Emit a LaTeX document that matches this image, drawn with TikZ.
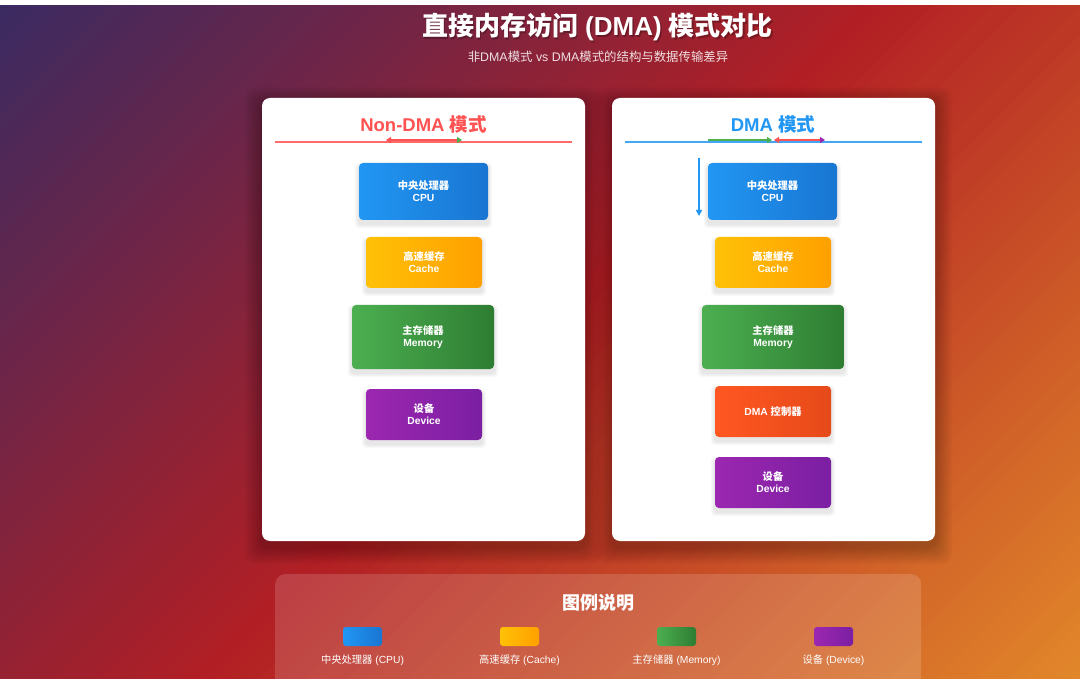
\documentclass[tikz,border=0pt]{standalone}
\usepackage{fontspec}
\setmainfont{Liberation Sans}
\newfontfamily\cjk{Noto Sans CJK SC}
\usetikzlibrary{arrows.meta}
\newcommand\zh[1]{{\cjk #1}}

\definecolor{bgA}{HTML}{3A2A62}
\definecolor{bgB}{HTML}{B21F24}
\definecolor{bgC}{HTML}{E2882A}
\definecolor{cpuA}{HTML}{2196F3}
\definecolor{cpuB}{HTML}{1976D2}
\definecolor{cacheA}{HTML}{FFC107}
\definecolor{cacheB}{HTML}{FFA000}
\definecolor{memA}{HTML}{4CAF50}
\definecolor{memB}{HTML}{2E7D32}
\definecolor{devA}{HTML}{9C27B0}
\definecolor{devB}{HTML}{7B1FA2}
\definecolor{dmaA}{HTML}{FF5722}
\definecolor{dmaB}{HTML}{E64A19}
\definecolor{redT}{HTML}{FF5252}
\definecolor{redL}{HTML}{FF6B6B}
\definecolor{blueT}{HTML}{2196F3}
\definecolor{blueL}{HTML}{42A5F5}
\definecolor{greenA}{HTML}{4CAF50}
\definecolor{purpleA}{HTML}{9C27B0}

\pgfdeclarelayer{lzero}
\pgfdeclarelayer{lone}
\pgfdeclarelayer{ltwo}
\pgfdeclarelayer{lthree}
\pgfsetlayers{lzero,lone,ltwo,lthree,main}

\tikzset{
  card/.style={fill=white, rounded corners=8pt, inner sep=0pt,
    minimum width=323pt, minimum height=443pt},
  cardtitle/.style={font=\bfseries\fontsize{18.5}{22}\selectfont, inner sep=0pt},
  nbox/.style={rounded corners=4pt, text=white, align=center, inner sep=0pt,
    font=\bfseries\fontsize{10.3}{12}\selectfont},
  cpu/.style={left color=cpuA, right color=cpuB, minimum width=129pt, minimum height=57pt},
  cache/.style={left color=cacheA, right color=cacheB, minimum width=116pt, minimum height=51pt},
  mem/.style={left color=memA, right color=memB, minimum width=142pt, minimum height=64pt},
  dev/.style={left color=devA, right color=devB, minimum width=116pt, minimum height=51pt},
  dma/.style={left color=dmaA, right color=dmaB, minimum width=116pt, minimum height=51pt},
  swatch/.style={rounded corners=3pt, inner sep=0pt, minimum width=39pt, minimum height=19pt},
  leglabel/.style={text=white, font=\fontsize{10.3}{12}\selectfont, inner sep=0pt},
}

\begin{document}
\begin{tikzpicture}[x=1pt,y=-1pt]
\useasboundingbox (0,0) rectangle (1080,679);
\begin{pgfonlayer}{lzero}
\fill[white] (0,0) rectangle (1080,679);
% background gradient (135deg)
\begin{scope}
  \clip (0,6) rectangle (1080,679);
  \foreach \i in {0,...,119} {
    \pgfmathsetmacro\sa{\i*14.6583}
    \pgfmathsetmacro\sb{\sa+16.2}
    \pgfmathsetmacro\sc{\sa-679}
    \pgfmathsetmacro\sd{\sb-679}
    \ifnum\i<60
      \pgfmathtruncatemacro\pp{(\i+0.5)*100/60}
      \colorlet{stripe}{bgB!\pp!bgA}
    \else
      \pgfmathtruncatemacro\pp{(\i-60+0.5)*100/60}
      \colorlet{stripe}{bgC!\pp!bgB}
    \fi
    \fill[stripe] (\sa,0) -- (\sb,0) -- (\sd,679) -- (\sc,679) -- cycle;
  }
\end{scope}
\end{pgfonlayer}

% title
\node[text=black, opacity=0.25, font=\bfseries\fontsize{26}{30}\selectfont, inner sep=0pt] (titleshadow) at (599,29) {\zh{直接内存访问} (DMA) \zh{模式对比}};
\node[text=white, font=\bfseries\fontsize{26}{30}\selectfont, inner sep=0pt] (title) at (597.5,27) {\zh{直接内存访问} (DMA) \zh{模式对比}};
\node[text=white, text opacity=0.85, font=\fontsize{12.4}{14}\selectfont, inner sep=0pt] (subtitle) at (598,57) {\zh{非}DMA\zh{模式} vs DMA\zh{模式的结构与数据传输差异}};

% cards
\begin{pgfonlayer}{ltwo}
\node[card] (lcard) at (423.5,319.5) {};
\node[card] (rcard) at (773.5,319.5) {};
\end{pgfonlayer}
\begin{pgfonlayer}{lone}
\foreach \n in {lcard,rcard} {
  \foreach \k in {1,...,12} {
    \fill[black, opacity=0.018, rounded corners=10pt]
      ([xshift=-1.4*\k pt, yshift={1.4*\k pt-6pt}]\n.north west) rectangle ([xshift=1.4*\k pt, yshift={-1.4*\k pt-6pt}]\n.south east);
  }
}
\end{pgfonlayer}

% left card header
\node[cardtitle, text=redT] (ltitle) at (423.5,124) {Non-DMA \zh{模式}};
\coordinate (lu1) at (275,142);
\coordinate (lu2) at (572,142);
\draw[redL, line width=2pt] (lu1) -- (lu2);
\coordinate (la1) at (386,140);
\coordinate (la2) at (462,140);
\draw[redT, line width=2pt, {Triangle[length=5pt,width=6pt]}-{Triangle[length=5pt,width=6pt,color=greenA]}] (la1) -- (la2);

% right card header
\node[cardtitle, text=blueT] (rtitle) at (773,124) {DMA \zh{模式}};
\coordinate (ru1) at (625,142);
\coordinate (ru2) at (922,142);
\draw[blueL, line width=2pt] (ru1) -- (ru2);
\coordinate (ra1) at (708,140);
\coordinate (ra2) at (772,140);
\draw[greenA, line width=2pt, -{Triangle[length=5pt,width=6pt]}] (ra1) -- (ra2);
\coordinate (rb1) at (774,140);
\coordinate (rb2) at (825,140);
\draw[redT, line width=2pt, {Triangle[length=5pt,width=6pt]}-{Triangle[length=5pt,width=6pt,color=purpleA]}] (rb1) -- (rb2);
\coordinate (va1) at (699,158);
\coordinate (va2) at (699,216);
\draw[blueT, line width=1.5pt, -{Triangle[length=6pt,width=6pt]}] (va1) -- (va2);

% left card components
\node[nbox, cpu] (lcpu) at (423.5,191.5) {\zh{中央处理器}\\CPU};
\node[nbox, cache] (lcache) at (424,262.5) {\zh{高速缓存}\\Cache};
\node[nbox, mem] (lmem) at (423,337) {\zh{主存储器}\\Memory};
\node[nbox, dev] (ldev) at (424,414.5) {\zh{设备}\\Device};

% right card components
\node[nbox, cpu] (rcpu) at (772.5,191.5) {\zh{中央处理器}\\CPU};
\node[nbox, cache] (rcache) at (773,262.5) {\zh{高速缓存}\\Cache};
\node[nbox, mem] (rmem) at (773,337) {\zh{主存储器}\\Memory};
\node[nbox, dma] (rdma) at (773,411.5) {DMA \zh{控制器}};
\node[nbox, dev] (rdev) at (773,482.5) {\zh{设备}\\Device};

\begin{pgfonlayer}{lthree}
\foreach \n in {lcpu,lcache,lmem,ldev,rcpu,rcache,rmem,rdma,rdev} {
  \foreach \k in {1,...,4} {
    \fill[black, opacity=0.022, rounded corners=4pt]
      ([xshift=-\k pt, yshift={\k pt-4pt}]\n.north west) rectangle ([xshift=\k pt, yshift={-\k pt-4pt}]\n.south east);
  }
}
\end{pgfonlayer}

% legend
\node[fill=white, fill opacity=0.15, rounded corners=10pt, inner sep=0pt, minimum width=646pt, minimum height=140pt, anchor=north west] (legend) at (275,574) {};
\node[text=white, font=\bfseries\fontsize{18}{21}\selectfont, inner sep=0pt] (legtitle) at (598,603) {\zh{图例说明}};
\node[swatch, left color=cpuA, right color=cpuB] (sw1) at (362.5,636.5) {};
\node[swatch, left color=cacheA, right color=cacheB] (sw2) at (519.5,636.5) {};
\node[swatch, left color=memA, right color=memB] (sw3) at (676.5,636.5) {};
\node[swatch, left color=devA, right color=devB] (sw4) at (833.5,636.5) {};
\node[leglabel] (lb1) at (362.5,660.5) {\zh{中央处理器} (CPU)};
\node[leglabel] (lb2) at (519.5,660.5) {\zh{高速缓存} (Cache)};
\node[leglabel] (lb3) at (676.5,660.5) {\zh{主存储器} (Memory)};
\node[leglabel] (lb4) at (833.5,660.5) {\zh{设备} (Device)};
\end{tikzpicture}
\end{document}
